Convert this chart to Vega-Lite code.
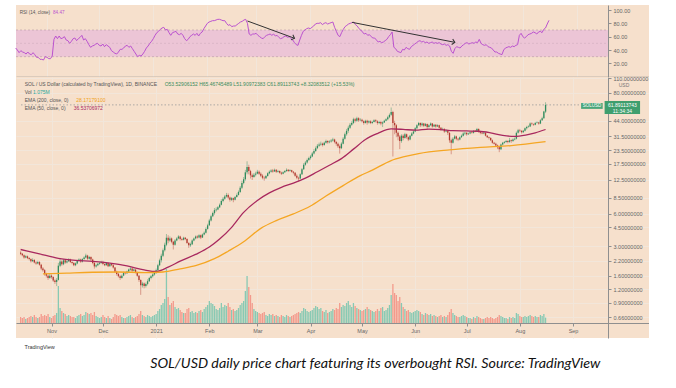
{
"$schema": "https://vega.github.io/schema/vega-lite/v6.json",
"padding": {"left": 13, "top": 5, "right": 0, "bottom": 0},
"background": "#ffffff",
"bounds": "flush",
"spacing": 0,
"title": {"text": "SOL/USD daily price chart featuring its overbought RSI. Source: TradingView", "orient": "bottom", "anchor": "middle", "font": "Lato", "fontStyle": "italic", "fontWeight": "normal", "fontSize": 14.3, "color": "#111111", "offset": 7, "dx": 44},
"datasets": {
"sol": [
{"d":"2020-10-14","o":2.62,"h":2.70,"l":2.48,"c":2.55,"v":1.2,"r":43},
{"d":"2020-10-15","o":2.55,"h":2.60,"l":2.42,"c":2.48,"v":1.0,"r":40},
{"d":"2020-10-16","o":2.48,"h":2.52,"l":2.30,"c":2.36,"v":1.2,"r":36},
{"d":"2020-10-17","o":2.36,"h":2.48,"l":2.32,"c":2.42,"v":0.8,"r":39},
{"d":"2020-10-18","o":2.42,"h":2.46,"l":2.28,"c":2.33,"v":1.0,"r":37},
{"d":"2020-10-19","o":2.33,"h":2.38,"l":2.22,"c":2.28,"v":1.2,"r":36},
{"d":"2020-10-20","o":2.28,"h":2.32,"l":2.12,"c":2.18,"v":1.4,"r":34},
{"d":"2020-10-21","o":2.18,"h":2.32,"l":2.14,"c":2.24,"v":1.2,"r":37},
{"d":"2020-10-22","o":2.24,"h":2.28,"l":2.08,"c":2.12,"v":1.6,"r":34},
{"d":"2020-10-23","o":2.12,"h":2.18,"l":2.02,"c":2.08,"v":1.2,"r":33},
{"d":"2020-10-24","o":2.08,"h":2.20,"l":2.04,"c":2.14,"v":1.0,"r":36},
{"d":"2020-10-25","o":2.14,"h":2.18,"l":1.98,"c":2.02,"v":1.2,"r":33},
{"d":"2020-10-26","o":2.02,"h":2.06,"l":1.80,"c":1.86,"v":1.8,"r":29},
{"d":"2020-10-27","o":1.86,"h":1.92,"l":1.74,"c":1.80,"v":1.4,"r":29},
{"d":"2020-10-28","o":1.80,"h":1.84,"l":1.60,"c":1.66,"v":1.6,"r":26},
{"d":"2020-10-29","o":1.66,"h":1.70,"l":1.54,"c":1.60,"v":1.4,"r":26},
{"d":"2020-10-30","o":1.60,"h":1.64,"l":1.46,"c":1.52,"v":1.8,"r":25},
{"d":"2020-10-31","o":1.52,"h":1.66,"l":1.50,"c":1.60,"v":1.2,"r":30},
{"d":"2020-11-01","o":1.60,"h":1.64,"l":1.50,"c":1.55,"v":1.0,"r":29},
{"d":"2020-11-02","o":1.55,"h":1.58,"l":1.40,"c":1.44,"v":1.4,"r":27},
{"d":"2020-11-03","o":1.44,"h":1.48,"l":1.34,"c":1.40,"v":1.6,"r":27},
{"d":"2020-11-04","o":1.40,"h":1.52,"l":1.28,"c":1.46,"v":2.0,"r":31},
{"d":"2020-11-05","o":1.46,"h":2.10,"l":1.44,"c":1.98,"v":7.4,"r":56},
{"d":"2020-11-06","o":1.98,"h":2.30,"l":1.92,"c":2.16,"v":3.0,"r":61},
{"d":"2020-11-07","o":2.16,"h":2.22,"l":1.98,"c":2.04,"v":2.4,"r":57},
{"d":"2020-11-08","o":2.04,"h":2.28,"l":2.00,"c":2.22,"v":2.0,"r":61},
{"d":"2020-11-09","o":2.22,"h":2.26,"l":2.06,"c":2.12,"v":1.8,"r":57},
{"d":"2020-11-10","o":2.12,"h":2.24,"l":2.08,"c":2.18,"v":1.4,"r":58},
{"d":"2020-11-11","o":2.18,"h":2.32,"l":2.14,"c":2.26,"v":1.6,"r":60},
{"d":"2020-11-12","o":2.26,"h":2.30,"l":2.10,"c":2.14,"v":1.4,"r":55},
{"d":"2020-11-13","o":2.14,"h":2.18,"l":2.04,"c":2.10,"v":1.2,"r":54},
{"d":"2020-11-14","o":2.10,"h":2.14,"l":1.96,"c":2.00,"v":1.2,"r":50},
{"d":"2020-11-15","o":2.00,"h":2.12,"l":1.96,"c":2.08,"v":1.0,"r":53},
{"d":"2020-11-16","o":2.08,"h":2.24,"l":2.04,"c":2.20,"v":1.4,"r":57},
{"d":"2020-11-17","o":2.20,"h":2.32,"l":2.16,"c":2.26,"v":1.6,"r":58},
{"d":"2020-11-18","o":2.26,"h":2.30,"l":2.10,"c":2.16,"v":1.8,"r":54},
{"d":"2020-11-19","o":2.16,"h":2.32,"l":2.12,"c":2.28,"v":1.4,"r":57},
{"d":"2020-11-20","o":2.28,"h":2.42,"l":2.24,"c":2.36,"v":1.6,"r":59},
{"d":"2020-11-21","o":2.36,"h":2.56,"l":2.32,"c":2.46,"v":2.2,"r":62},
{"d":"2020-11-22","o":2.46,"h":2.50,"l":2.24,"c":2.30,"v":2.0,"r":55},
{"d":"2020-11-23","o":2.30,"h":2.44,"l":2.26,"c":2.38,"v":1.8,"r":57},
{"d":"2020-11-24","o":2.38,"h":2.42,"l":2.20,"c":2.26,"v":2.0,"r":53},
{"d":"2020-11-25","o":2.26,"h":2.30,"l":2.04,"c":2.10,"v":1.6,"r":48},
{"d":"2020-11-26","o":2.10,"h":2.14,"l":1.86,"c":1.95,"v":2.2,"r":44},
{"d":"2020-11-27","o":1.95,"h":2.06,"l":1.90,"c":2.00,"v":1.4,"r":46},
{"d":"2020-11-28","o":2.00,"h":2.10,"l":1.96,"c":2.06,"v":1.2,"r":47},
{"d":"2020-11-29","o":2.06,"h":2.14,"l":2.02,"c":2.10,"v":1.0,"r":49},
{"d":"2020-11-30","o":2.10,"h":2.20,"l":2.06,"c":2.14,"v":1.2,"r":50},
{"d":"2020-12-01","o":2.14,"h":2.20,"l":2.00,"c":2.05,"v":1.6,"r":47},
{"d":"2020-12-02","o":2.05,"h":2.08,"l":1.96,"c":2.00,"v":1.2,"r":46},
{"d":"2020-12-03","o":2.00,"h":2.14,"l":1.98,"c":2.10,"v":1.0,"r":49},
{"d":"2020-12-04","o":2.10,"h":2.12,"l":1.92,"c":1.96,"v":1.4,"r":45},
{"d":"2020-12-05","o":1.96,"h":2.08,"l":1.94,"c":2.05,"v":1.0,"r":48},
{"d":"2020-12-06","o":2.05,"h":2.08,"l":1.96,"c":2.00,"v":0.8,"r":46},
{"d":"2020-12-07","o":2.00,"h":2.04,"l":1.86,"c":1.90,"v":1.2,"r":44},
{"d":"2020-12-08","o":1.90,"h":1.92,"l":1.70,"c":1.74,"v":1.8,"r":39},
{"d":"2020-12-09","o":1.74,"h":1.78,"l":1.60,"c":1.66,"v":1.6,"r":37},
{"d":"2020-12-10","o":1.66,"h":1.70,"l":1.54,"c":1.58,"v":1.4,"r":35},
{"d":"2020-12-11","o":1.58,"h":1.62,"l":1.46,"c":1.52,"v":1.6,"r":34},
{"d":"2020-12-12","o":1.52,"h":1.64,"l":1.50,"c":1.60,"v":1.2,"r":37},
{"d":"2020-12-13","o":1.60,"h":1.74,"l":1.58,"c":1.70,"v":1.0,"r":41},
{"d":"2020-12-14","o":1.70,"h":1.74,"l":1.64,"c":1.68,"v":1.0,"r":41},
{"d":"2020-12-15","o":1.68,"h":1.78,"l":1.66,"c":1.75,"v":1.2,"r":43},
{"d":"2020-12-16","o":1.75,"h":1.86,"l":1.72,"c":1.82,"v":1.4,"r":46},
{"d":"2020-12-17","o":1.82,"h":1.92,"l":1.78,"c":1.86,"v":1.6,"r":47},
{"d":"2020-12-18","o":1.86,"h":1.88,"l":1.74,"c":1.78,"v":1.2,"r":44},
{"d":"2020-12-19","o":1.78,"h":1.86,"l":1.76,"c":1.82,"v":1.0,"r":46},
{"d":"2020-12-20","o":1.82,"h":1.84,"l":1.68,"c":1.72,"v":1.2,"r":42},
{"d":"2020-12-21","o":1.72,"h":1.74,"l":1.56,"c":1.60,"v":1.4,"r":38},
{"d":"2020-12-22","o":1.60,"h":1.62,"l":1.40,"c":1.46,"v":1.8,"r":34},
{"d":"2020-12-23","o":1.46,"h":1.48,"l":1.06,"c":1.30,"v":2.4,"r":30},
{"d":"2020-12-24","o":1.30,"h":1.40,"l":1.24,"c":1.35,"v":1.6,"r":32},
{"d":"2020-12-25","o":1.35,"h":1.38,"l":1.22,"c":1.28,"v":1.4,"r":31},
{"d":"2020-12-26","o":1.28,"h":1.38,"l":1.24,"c":1.34,"v":1.2,"r":34},
{"d":"2020-12-27","o":1.34,"h":1.48,"l":1.30,"c":1.42,"v":1.6,"r":38},
{"d":"2020-12-28","o":1.42,"h":1.56,"l":1.40,"c":1.52,"v":1.4,"r":43},
{"d":"2020-12-29","o":1.52,"h":1.62,"l":1.48,"c":1.58,"v":1.2,"r":46},
{"d":"2020-12-30","o":1.58,"h":1.68,"l":1.54,"c":1.64,"v":1.4,"r":50},
{"d":"2020-12-31","o":1.64,"h":1.76,"l":1.60,"c":1.70,"v":1.6,"r":53},
{"d":"2021-01-01","o":1.70,"h":1.86,"l":1.66,"c":1.80,"v":1.8,"r":57},
{"d":"2021-01-02","o":1.80,"h":2.06,"l":1.76,"c":2.00,"v":2.4,"r":62},
{"d":"2021-01-03","o":2.00,"h":2.30,"l":1.96,"c":2.22,"v":2.8,"r":66},
{"d":"2021-01-04","o":2.22,"h":2.56,"l":2.12,"c":2.45,"v":3.6,"r":68},
{"d":"2021-01-05","o":2.45,"h":2.86,"l":2.38,"c":2.75,"v":4.0,"r":71},
{"d":"2021-01-06","o":2.75,"h":3.24,"l":2.68,"c":3.10,"v":4.8,"r":73},
{"d":"2021-01-07","o":3.10,"h":3.90,"l":3.00,"c":3.60,"v":10.8,"r":74},
{"d":"2021-01-08","o":3.60,"h":3.80,"l":3.20,"c":3.40,"v":5.2,"r":70},
{"d":"2021-01-09","o":3.40,"h":3.70,"l":3.30,"c":3.55,"v":3.6,"r":71},
{"d":"2021-01-10","o":3.55,"h":3.62,"l":3.20,"c":3.30,"v":4.0,"r":66},
{"d":"2021-01-11","o":3.30,"h":3.36,"l":2.80,"c":3.10,"v":4.4,"r":62},
{"d":"2021-01-12","o":3.10,"h":3.50,"l":3.04,"c":3.40,"v":3.2,"r":66},
{"d":"2021-01-13","o":3.40,"h":3.64,"l":3.34,"c":3.55,"v":2.8,"r":67},
{"d":"2021-01-14","o":3.55,"h":3.80,"l":3.48,"c":3.70,"v":3.0,"r":68},
{"d":"2021-01-15","o":3.70,"h":3.76,"l":3.40,"c":3.50,"v":2.6,"r":64},
{"d":"2021-01-16","o":3.50,"h":3.60,"l":3.38,"c":3.45,"v":2.2,"r":63},
{"d":"2021-01-17","o":3.45,"h":3.68,"l":3.40,"c":3.60,"v":2.0,"r":65},
{"d":"2021-01-18","o":3.60,"h":3.66,"l":3.42,"c":3.50,"v":2.0,"r":62},
{"d":"2021-01-19","o":3.50,"h":3.56,"l":3.16,"c":3.22,"v":2.8,"r":57},
{"d":"2021-01-20","o":3.22,"h":3.28,"l":2.90,"c":3.06,"v":3.0,"r":54},
{"d":"2021-01-21","o":3.06,"h":3.24,"l":2.96,"c":3.14,"v":2.2,"r":56},
{"d":"2021-01-22","o":3.14,"h":3.48,"l":3.08,"c":3.40,"v":2.4,"r":60},
{"d":"2021-01-23","o":3.40,"h":3.62,"l":3.34,"c":3.55,"v":2.0,"r":62},
{"d":"2021-01-24","o":3.55,"h":3.78,"l":3.48,"c":3.70,"v":2.2,"r":64},
{"d":"2021-01-25","o":3.70,"h":3.80,"l":3.54,"c":3.62,"v":2.0,"r":62},
{"d":"2021-01-26","o":3.62,"h":3.88,"l":3.56,"c":3.80,"v":2.4,"r":65},
{"d":"2021-01-27","o":3.80,"h":3.86,"l":3.50,"c":3.62,"v":2.6,"r":61},
{"d":"2021-01-28","o":3.62,"h":3.94,"l":3.58,"c":3.86,"v":2.2,"r":65},
{"d":"2021-01-29","o":3.86,"h":4.12,"l":3.80,"c":4.00,"v":2.8,"r":67},
{"d":"2021-01-30","o":4.00,"h":4.50,"l":3.94,"c":4.35,"v":3.2,"r":72},
{"d":"2021-01-31","o":4.35,"h":4.86,"l":4.28,"c":4.70,"v":3.6,"r":76},
{"d":"2021-02-01","o":4.70,"h":5.40,"l":4.62,"c":5.20,"v":4.4,"r":80},
{"d":"2021-02-02","o":5.20,"h":5.90,"l":5.10,"c":5.70,"v":4.0,"r":82},
{"d":"2021-02-03","o":5.70,"h":6.30,"l":5.60,"c":6.10,"v":3.8,"r":83},
{"d":"2021-02-04","o":6.10,"h":6.80,"l":5.90,"c":6.50,"v":3.4,"r":84},
{"d":"2021-02-05","o":6.50,"h":6.90,"l":6.30,"c":6.60,"v":2.8,"r":84},
{"d":"2021-02-06","o":6.60,"h":7.10,"l":6.50,"c":6.90,"v":2.6,"r":85},
{"d":"2021-02-07","o":6.90,"h":7.50,"l":6.80,"c":7.30,"v":3.0,"r":86},
{"d":"2021-02-08","o":7.30,"h":8.20,"l":7.20,"c":7.90,"v":4.0,"r":86},
{"d":"2021-02-09","o":7.90,"h":8.60,"l":7.70,"c":8.30,"v":3.2,"r":85},
{"d":"2021-02-10","o":8.30,"h":9.00,"l":8.10,"c":8.70,"v":3.6,"r":84},
{"d":"2021-02-11","o":8.70,"h":9.40,"l":8.50,"c":9.00,"v":3.4,"r":84},
{"d":"2021-02-12","o":9.00,"h":9.30,"l":8.20,"c":8.50,"v":4.0,"r":80},
{"d":"2021-02-13","o":8.50,"h":8.70,"l":7.80,"c":8.10,"v":3.2,"r":77},
{"d":"2021-02-14","o":8.10,"h":8.60,"l":7.90,"c":8.40,"v":2.6,"r":78},
{"d":"2021-02-15","o":8.40,"h":8.50,"l":7.70,"c":8.10,"v":2.8,"r":75},
{"d":"2021-02-16","o":8.10,"h":8.80,"l":8.00,"c":8.60,"v":2.4,"r":76},
{"d":"2021-02-17","o":8.60,"h":9.30,"l":8.50,"c":9.00,"v":2.6,"r":76},
{"d":"2021-02-18","o":9.00,"h":9.90,"l":8.90,"c":9.60,"v":3.0,"r":78},
{"d":"2021-02-19","o":9.60,"h":10.9,"l":9.40,"c":10.5,"v":3.6,"r":80},
{"d":"2021-02-20","o":10.5,"h":12.2,"l":10.2,"c":11.6,"v":4.0,"r":82},
{"d":"2021-02-21","o":11.6,"h":13.2,"l":11.3,"c":12.6,"v":4.4,"r":83},
{"d":"2021-02-22","o":12.6,"h":15.4,"l":12.2,"c":14.6,"v":6.4,"r":85},
{"d":"2021-02-23","o":14.6,"h":18.5,"l":14.0,"c":16.4,"v":9.4,"r":86},
{"d":"2021-02-24","o":16.4,"h":17.2,"l":14.0,"c":15.0,"v":7.2,"r":80},
{"d":"2021-02-25","o":15.0,"h":15.4,"l":12.8,"c":13.7,"v":5.6,"r":64},
{"d":"2021-02-26","o":13.7,"h":14.2,"l":12.4,"c":13.2,"v":4.0,"r":62},
{"d":"2021-02-27","o":13.2,"h":14.4,"l":13.0,"c":13.9,"v":2.8,"r":64},
{"d":"2021-02-28","o":13.9,"h":14.8,"l":13.4,"c":14.2,"v":2.4,"r":64},
{"d":"2021-03-01","o":14.2,"h":15.4,"l":14.0,"c":14.8,"v":2.2,"r":65},
{"d":"2021-03-02","o":14.8,"h":15.2,"l":13.8,"c":14.2,"v":2.0,"r":62},
{"d":"2021-03-03","o":14.2,"h":14.6,"l":13.2,"c":13.6,"v":1.8,"r":60},
{"d":"2021-03-04","o":13.6,"h":14.0,"l":12.6,"c":13.0,"v":2.0,"r":58},
{"d":"2021-03-05","o":13.0,"h":13.4,"l":12.2,"c":12.9,"v":2.2,"r":57},
{"d":"2021-03-06","o":12.9,"h":13.8,"l":12.7,"c":13.5,"v":1.6,"r":60},
{"d":"2021-03-07","o":13.5,"h":14.6,"l":13.3,"c":14.3,"v":1.4,"r":62},
{"d":"2021-03-08","o":14.3,"h":15.2,"l":14.0,"c":14.8,"v":1.8,"r":63},
{"d":"2021-03-09","o":14.8,"h":15.6,"l":14.5,"c":15.2,"v":1.6,"r":64},
{"d":"2021-03-10","o":15.2,"h":15.7,"l":14.5,"c":14.9,"v":1.8,"r":62},
{"d":"2021-03-11","o":14.9,"h":15.8,"l":14.7,"c":15.4,"v":1.4,"r":64},
{"d":"2021-03-12","o":15.4,"h":15.6,"l":14.4,"c":14.8,"v":1.6,"r":61},
{"d":"2021-03-13","o":14.8,"h":15.4,"l":14.5,"c":15.0,"v":1.4,"r":62},
{"d":"2021-03-14","o":15.0,"h":15.2,"l":14.2,"c":14.5,"v":1.2,"r":59},
{"d":"2021-03-15","o":14.5,"h":14.8,"l":13.8,"c":14.2,"v":1.6,"r":57},
{"d":"2021-03-16","o":14.2,"h":14.9,"l":14.0,"c":14.6,"v":1.4,"r":58},
{"d":"2021-03-17","o":14.6,"h":15.3,"l":14.4,"c":15.0,"v":1.2,"r":60},
{"d":"2021-03-18","o":15.0,"h":15.9,"l":14.8,"c":15.4,"v":1.6,"r":61},
{"d":"2021-03-19","o":15.4,"h":15.6,"l":14.7,"c":15.0,"v":1.4,"r":59},
{"d":"2021-03-20","o":15.0,"h":15.6,"l":14.8,"c":15.3,"v":1.2,"r":60},
{"d":"2021-03-21","o":15.3,"h":15.4,"l":14.5,"c":14.8,"v":1.4,"r":57},
{"d":"2021-03-22","o":14.8,"h":15.0,"l":14.0,"c":14.5,"v":1.6,"r":55},
{"d":"2021-03-23","o":14.5,"h":14.7,"l":13.3,"c":13.6,"v":1.8,"r":51},
{"d":"2021-03-24","o":13.6,"h":14.0,"l":12.6,"c":13.0,"v":2.0,"r":48},
{"d":"2021-03-25","o":13.0,"h":13.3,"l":12.0,"c":12.8,"v":2.2,"r":47},
{"d":"2021-03-26","o":12.8,"h":14.3,"l":12.6,"c":14.0,"v":2.0,"r":55},
{"d":"2021-03-27","o":14.0,"h":16.0,"l":13.8,"c":15.6,"v":2.4,"r":62},
{"d":"2021-03-28","o":15.6,"h":17.8,"l":15.4,"c":17.2,"v":3.0,"r":68},
{"d":"2021-03-29","o":17.2,"h":18.6,"l":16.8,"c":18.0,"v":2.8,"r":70},
{"d":"2021-03-30","o":18.0,"h":19.6,"l":17.6,"c":19.0,"v":2.4,"r":72},
{"d":"2021-03-31","o":19.0,"h":20.4,"l":18.6,"c":19.8,"v":2.2,"r":73},
{"d":"2021-04-01","o":19.8,"h":21.2,"l":19.2,"c":20.5,"v":2.4,"r":72},
{"d":"2021-04-02","o":20.5,"h":22.6,"l":20.2,"c":21.8,"v":2.6,"r":74},
{"d":"2021-04-03","o":21.8,"h":24.0,"l":21.4,"c":23.0,"v":3.0,"r":76},
{"d":"2021-04-04","o":23.0,"h":25.4,"l":22.6,"c":24.5,"v":3.4,"r":79},
{"d":"2021-04-05","o":24.5,"h":26.8,"l":24.0,"c":25.8,"v":3.2,"r":80},
{"d":"2021-04-06","o":25.8,"h":27.6,"l":25.2,"c":26.5,"v":2.8,"r":80},
{"d":"2021-04-07","o":26.5,"h":28.2,"l":25.8,"c":27.0,"v":3.0,"r":81},
{"d":"2021-04-08","o":27.0,"h":27.6,"l":25.4,"c":26.2,"v":2.4,"r":78},
{"d":"2021-04-09","o":26.2,"h":28.2,"l":25.8,"c":27.5,"v":2.2,"r":80},
{"d":"2021-04-10","o":27.5,"h":29.4,"l":27.0,"c":28.5,"v":2.6,"r":81},
{"d":"2021-04-11","o":28.5,"h":29.0,"l":27.0,"c":27.8,"v":2.0,"r":79},
{"d":"2021-04-12","o":27.8,"h":29.0,"l":27.2,"c":28.2,"v":2.2,"r":80},
{"d":"2021-04-13","o":28.2,"h":29.8,"l":27.6,"c":28.8,"v":2.4,"r":81},
{"d":"2021-04-14","o":28.8,"h":30.6,"l":28.2,"c":29.5,"v":2.8,"r":82},
{"d":"2021-04-15","o":29.5,"h":30.0,"l":27.2,"c":28.0,"v":2.6,"r":74},
{"d":"2021-04-16","o":28.0,"h":28.6,"l":25.8,"c":27.0,"v":3.0,"r":68},
{"d":"2021-04-17","o":27.0,"h":27.6,"l":24.6,"c":25.5,"v":2.8,"r":62},
{"d":"2021-04-18","o":25.5,"h":26.4,"l":21.8,"c":24.5,"v":4.0,"r":60},
{"d":"2021-04-19","o":24.5,"h":27.8,"l":24.0,"c":27.0,"v":3.2,"r":66},
{"d":"2021-04-20","o":27.0,"h":31.0,"l":26.6,"c":30.0,"v":3.6,"r":71},
{"d":"2021-04-21","o":30.0,"h":34.2,"l":29.4,"c":33.0,"v":3.4,"r":75},
{"d":"2021-04-22","o":33.0,"h":37.0,"l":32.0,"c":35.5,"v":4.0,"r":77},
{"d":"2021-04-23","o":35.5,"h":39.6,"l":34.0,"c":38.0,"v":4.4,"r":79},
{"d":"2021-04-24","o":38.0,"h":42.0,"l":37.0,"c":40.5,"v":3.6,"r":80},
{"d":"2021-04-25","o":40.5,"h":43.6,"l":39.5,"c":42.0,"v":3.2,"r":81},
{"d":"2021-04-26","o":42.0,"h":47.0,"l":41.0,"c":45.5,"v":4.0,"r":82},
{"d":"2021-04-27","o":45.5,"h":46.8,"l":42.5,"c":44.0,"v":3.4,"r":78},
{"d":"2021-04-28","o":44.0,"h":48.0,"l":43.0,"c":46.5,"v":3.0,"r":76},
{"d":"2021-04-29","o":46.5,"h":47.5,"l":43.0,"c":44.5,"v":2.8,"r":72},
{"d":"2021-04-30","o":44.5,"h":46.5,"l":43.5,"c":45.0,"v":2.6,"r":70},
{"d":"2021-05-01","o":45.0,"h":46.0,"l":42.5,"c":43.5,"v":2.4,"r":67},
{"d":"2021-05-02","o":43.5,"h":44.5,"l":40.5,"c":42.0,"v":2.6,"r":64},
{"d":"2021-05-03","o":42.0,"h":45.0,"l":41.5,"c":44.0,"v":2.8,"r":65},
{"d":"2021-05-04","o":44.0,"h":45.0,"l":40.5,"c":42.5,"v":3.2,"r":62},
{"d":"2021-05-05","o":42.5,"h":44.5,"l":41.5,"c":43.5,"v":2.8,"r":63},
{"d":"2021-05-06","o":43.5,"h":44.5,"l":41.0,"c":42.0,"v":2.6,"r":60},
{"d":"2021-05-07","o":42.0,"h":44.0,"l":41.0,"c":43.0,"v":2.4,"r":58},
{"d":"2021-05-08","o":43.0,"h":45.5,"l":42.5,"c":44.5,"v":2.2,"r":58},
{"d":"2021-05-09","o":44.5,"h":45.5,"l":42.5,"c":43.5,"v":2.4,"r":55},
{"d":"2021-05-10","o":43.5,"h":44.5,"l":40.5,"c":42.0,"v":2.8,"r":52},
{"d":"2021-05-11","o":42.0,"h":44.0,"l":41.0,"c":43.0,"v":2.4,"r":53},
{"d":"2021-05-12","o":43.0,"h":44.0,"l":40.0,"c":41.5,"v":3.0,"r":51},
{"d":"2021-05-13","o":41.5,"h":43.5,"l":38.5,"c":42.5,"v":3.2,"r":52},
{"d":"2021-05-14","o":42.5,"h":45.0,"l":42.0,"c":44.0,"v":2.4,"r":54},
{"d":"2021-05-15","o":44.0,"h":46.5,"l":43.5,"c":45.5,"v":2.6,"r":56},
{"d":"2021-05-16","o":45.5,"h":49.0,"l":44.5,"c":47.5,"v":3.0,"r":60},
{"d":"2021-05-17","o":47.5,"h":51.5,"l":46.5,"c":50.0,"v":3.6,"r":63},
{"d":"2021-05-18","o":50.0,"h":58.5,"l":49.0,"c":53.0,"v":5.6,"r":67},
{"d":"2021-05-19","o":53.0,"h":54.5,"l":20.5,"c":42.0,"v":7.8,"r":44},
{"d":"2021-05-20","o":42.0,"h":44.0,"l":33.0,"c":40.0,"v":6.0,"r":42},
{"d":"2021-05-21","o":40.0,"h":41.0,"l":31.0,"c":34.0,"v":5.6,"r":38},
{"d":"2021-05-22","o":34.0,"h":35.0,"l":29.0,"c":31.5,"v":4.4,"r":37},
{"d":"2021-05-23","o":31.5,"h":32.5,"l":24.0,"c":28.5,"v":5.2,"r":36},
{"d":"2021-05-24","o":28.5,"h":33.0,"l":27.5,"c":32.0,"v":4.0,"r":41},
{"d":"2021-05-25","o":32.0,"h":33.0,"l":29.0,"c":30.5,"v":3.2,"r":40},
{"d":"2021-05-26","o":30.5,"h":34.0,"l":30.0,"c":33.0,"v":2.8,"r":44},
{"d":"2021-05-27","o":33.0,"h":33.5,"l":30.0,"c":31.0,"v":2.4,"r":42},
{"d":"2021-05-28","o":31.0,"h":31.5,"l":28.5,"c":29.5,"v":2.6,"r":41},
{"d":"2021-05-29","o":29.5,"h":32.5,"l":29.0,"c":32.0,"v":2.2,"r":45},
{"d":"2021-05-30","o":32.0,"h":34.5,"l":31.5,"c":33.5,"v":2.0,"r":47},
{"d":"2021-05-31","o":33.5,"h":36.0,"l":33.0,"c":35.0,"v":2.2,"r":49},
{"d":"2021-06-01","o":35.0,"h":38.5,"l":34.5,"c":37.5,"v":2.4,"r":51},
{"d":"2021-06-02","o":37.5,"h":41.0,"l":37.0,"c":40.0,"v":2.6,"r":53},
{"d":"2021-06-03","o":40.0,"h":43.0,"l":39.5,"c":42.0,"v":2.4,"r":54},
{"d":"2021-06-04","o":42.0,"h":42.5,"l":38.5,"c":40.0,"v":2.2,"r":52},
{"d":"2021-06-05","o":40.0,"h":42.5,"l":39.0,"c":41.5,"v":1.8,"r":53},
{"d":"2021-06-06","o":41.5,"h":42.0,"l":38.5,"c":39.5,"v":1.6,"r":51},
{"d":"2021-06-07","o":39.5,"h":42.0,"l":39.0,"c":41.0,"v":2.0,"r":52},
{"d":"2021-06-08","o":41.0,"h":41.5,"l":37.0,"c":38.5,"v":1.8,"r":50},
{"d":"2021-06-09","o":38.5,"h":41.0,"l":38.0,"c":40.0,"v":1.6,"r":51},
{"d":"2021-06-10","o":40.0,"h":42.5,"l":39.5,"c":41.5,"v":1.8,"r":52},
{"d":"2021-06-11","o":41.5,"h":42.0,"l":38.0,"c":39.0,"v":1.4,"r":50},
{"d":"2021-06-12","o":39.0,"h":41.0,"l":38.5,"c":40.5,"v":1.6,"r":51},
{"d":"2021-06-13","o":40.5,"h":41.0,"l":38.0,"c":39.0,"v":1.4,"r":50},
{"d":"2021-06-14","o":39.0,"h":40.8,"l":38.5,"c":40.0,"v":1.2,"r":51},
{"d":"2021-06-15","o":40.0,"h":40.5,"l":37.0,"c":38.0,"v":1.4,"r":49},
{"d":"2021-06-16","o":38.0,"h":38.5,"l":35.5,"c":36.5,"v":1.6,"r":48},
{"d":"2021-06-17","o":36.5,"h":38.0,"l":36.0,"c":37.0,"v":1.2,"r":49},
{"d":"2021-06-18","o":37.0,"h":37.5,"l":34.0,"c":35.0,"v":1.4,"r":47},
{"d":"2021-06-19","o":35.0,"h":36.5,"l":34.5,"c":35.5,"v":1.2,"r":48},
{"d":"2021-06-20","o":35.5,"h":36.0,"l":32.5,"c":34.0,"v":1.6,"r":46},
{"d":"2021-06-21","o":34.0,"h":34.5,"l":27.5,"c":29.0,"v":2.2,"r":38},
{"d":"2021-06-22","o":29.0,"h":30.0,"l":21.5,"c":27.5,"v":2.8,"r":35},
{"d":"2021-06-23","o":27.5,"h":31.0,"l":27.0,"c":30.0,"v":2.0,"r":42},
{"d":"2021-06-24","o":30.0,"h":32.5,"l":29.5,"c":31.5,"v":1.6,"r":45},
{"d":"2021-06-25","o":31.5,"h":32.0,"l":29.0,"c":30.0,"v":1.4,"r":44},
{"d":"2021-06-26","o":30.0,"h":30.5,"l":28.5,"c":29.5,"v":1.2,"r":43},
{"d":"2021-06-27","o":29.5,"h":31.5,"l":29.0,"c":31.0,"v":1.2,"r":46},
{"d":"2021-06-28","o":31.0,"h":32.8,"l":30.5,"c":32.0,"v":1.4,"r":48},
{"d":"2021-06-29","o":32.0,"h":34.5,"l":31.5,"c":33.5,"v":1.6,"r":50},
{"d":"2021-06-30","o":33.5,"h":34.8,"l":32.5,"c":34.0,"v":1.4,"r":51},
{"d":"2021-07-01","o":34.0,"h":34.5,"l":32.0,"c":33.0,"v":1.2,"r":49},
{"d":"2021-07-02","o":33.0,"h":34.2,"l":32.5,"c":33.5,"v":1.0,"r":50},
{"d":"2021-07-03","o":33.5,"h":35.0,"l":33.0,"c":34.5,"v":1.0,"r":51},
{"d":"2021-07-04","o":34.5,"h":35.2,"l":33.5,"c":34.0,"v":0.8,"r":50},
{"d":"2021-07-05","o":34.0,"h":36.0,"l":33.5,"c":35.5,"v":1.2,"r":52},
{"d":"2021-07-06","o":35.5,"h":36.2,"l":34.5,"c":35.0,"v":1.0,"r":51},
{"d":"2021-07-07","o":35.0,"h":37.8,"l":34.8,"c":37.0,"v":1.4,"r":56},
{"d":"2021-07-08","o":37.0,"h":37.5,"l":34.0,"c":35.0,"v":1.2,"r":50},
{"d":"2021-07-09","o":35.0,"h":35.5,"l":33.0,"c":34.0,"v":1.0,"r":48},
{"d":"2021-07-10","o":34.0,"h":34.5,"l":33.0,"c":33.5,"v":0.8,"r":47},
{"d":"2021-07-11","o":33.5,"h":34.6,"l":33.0,"c":34.0,"v":0.8,"r":48},
{"d":"2021-07-12","o":34.0,"h":34.5,"l":31.5,"c":32.0,"v":1.0,"r":45},
{"d":"2021-07-13","o":32.0,"h":32.5,"l":30.5,"c":31.0,"v":1.2,"r":44},
{"d":"2021-07-14","o":31.0,"h":31.5,"l":29.5,"c":30.5,"v":1.0,"r":43},
{"d":"2021-07-15","o":30.5,"h":31.0,"l":28.5,"c":29.0,"v":1.2,"r":40},
{"d":"2021-07-16","o":29.0,"h":29.5,"l":27.0,"c":27.5,"v":1.0,"r":37},
{"d":"2021-07-17","o":27.5,"h":28.0,"l":26.5,"c":27.0,"v":0.8,"r":37},
{"d":"2021-07-18","o":27.0,"h":27.5,"l":25.5,"c":26.0,"v":1.0,"r":35},
{"d":"2021-07-19","o":26.0,"h":26.5,"l":24.0,"c":25.0,"v":1.2,"r":34},
{"d":"2021-07-20","o":25.0,"h":25.5,"l":22.5,"c":24.0,"v":1.6,"r":33},
{"d":"2021-07-21","o":24.0,"h":27.0,"l":23.5,"c":26.5,"v":1.4,"r":40},
{"d":"2021-07-22","o":26.5,"h":28.0,"l":26.0,"c":27.5,"v":1.2,"r":43},
{"d":"2021-07-23","o":27.5,"h":28.5,"l":27.0,"c":28.0,"v":1.0,"r":44},
{"d":"2021-07-24","o":28.0,"h":29.2,"l":27.5,"c":28.5,"v":1.0,"r":45},
{"d":"2021-07-25","o":28.5,"h":29.0,"l":27.2,"c":28.0,"v":0.8,"r":44},
{"d":"2021-07-26","o":28.0,"h":30.5,"l":27.5,"c":29.0,"v":1.2,"r":46},
{"d":"2021-07-27","o":29.0,"h":29.5,"l":27.5,"c":28.5,"v":1.0,"r":45},
{"d":"2021-07-28","o":28.5,"h":30.2,"l":28.0,"c":29.5,"v":1.2,"r":47},
{"d":"2021-07-29","o":29.5,"h":30.8,"l":29.0,"c":30.0,"v":1.0,"r":48},
{"d":"2021-07-30","o":30.0,"h":35.0,"l":29.5,"c":34.0,"v":2.0,"r":62},
{"d":"2021-07-31","o":34.0,"h":37.0,"l":33.5,"c":36.0,"v":1.8,"r":65},
{"d":"2021-08-01","o":36.0,"h":37.0,"l":34.5,"c":35.5,"v":1.4,"r":60},
{"d":"2021-08-02","o":35.5,"h":36.0,"l":33.5,"c":34.5,"v":1.2,"r":58},
{"d":"2021-08-03","o":34.5,"h":36.2,"l":34.0,"c":35.5,"v":1.2,"r":60},
{"d":"2021-08-04","o":35.5,"h":38.2,"l":35.0,"c":37.5,"v":1.4,"r":63},
{"d":"2021-08-05","o":37.5,"h":39.5,"l":36.5,"c":38.5,"v":1.2,"r":64},
{"d":"2021-08-06","o":38.5,"h":40.0,"l":38.0,"c":39.0,"v":1.4,"r":65},
{"d":"2021-08-07","o":39.0,"h":42.5,"l":38.5,"c":41.5,"v":1.6,"r":67},
{"d":"2021-08-08","o":41.5,"h":42.5,"l":40.0,"c":41.0,"v":1.4,"r":66},
{"d":"2021-08-09","o":41.0,"h":41.5,"l":39.5,"c":40.5,"v":1.2,"r":64},
{"d":"2021-08-10","o":40.5,"h":43.0,"l":40.0,"c":42.0,"v":1.4,"r":67},
{"d":"2021-08-11","o":42.0,"h":43.5,"l":41.5,"c":42.5,"v":1.2,"r":68},
{"d":"2021-08-12","o":42.5,"h":43.0,"l":40.5,"c":41.5,"v":1.2,"r":66},
{"d":"2021-08-13","o":41.5,"h":45.5,"l":41.0,"c":44.5,"v":1.6,"r":71},
{"d":"2021-08-14","o":44.5,"h":48.0,"l":44.0,"c":46.5,"v":1.4,"r":73},
{"d":"2021-08-15","o":46.5,"h":54.5,"l":46.0,"c":53.57,"v":1.8,"r":79},
{"d":"2021-08-16","o":53.53,"h":65.47,"l":51.91,"c":61.89,"v":1.075,"r":84.47}
],
"ema": [
{"d":"2020-10-14","k":"e50","e":2.80},{"d":"2020-10-25","k":"e50","e":2.55},{"d":"2020-11-05","k":"e50","e":2.32},{"d":"2020-11-15","k":"e50","e":2.22},{"d":"2020-11-25","k":"e50","e":2.17},{"d":"2020-12-05","k":"e50","e":2.09},{"d":"2020-12-15","k":"e50","e":1.97},{"d":"2020-12-25","k":"e50","e":1.81},{"d":"2021-01-01","k":"e50","e":1.75},{"d":"2021-01-08","k":"e50","e":1.92},{"d":"2021-01-15","k":"e50","e":2.18},{"d":"2021-01-24","k":"e50","e":2.52},{"d":"2021-02-01","k":"e50","e":2.95},{"d":"2021-02-07","k":"e50","e":3.50},{"d":"2021-02-14","k":"e50","e":4.50},{"d":"2021-02-21","k":"e50","e":6.20},{"d":"2021-03-01","k":"e50","e":8.00},{"d":"2021-03-08","k":"e50","e":9.40},{"d":"2021-03-15","k":"e50","e":10.6},{"d":"2021-03-22","k":"e50","e":11.6},{"d":"2021-03-29","k":"e50","e":12.9},{"d":"2021-04-05","k":"e50","e":14.8},{"d":"2021-04-12","k":"e50","e":17.0},{"d":"2021-04-19","k":"e50","e":19.6},{"d":"2021-04-26","k":"e50","e":24.0},{"d":"2021-05-03","k":"e50","e":29.5},{"d":"2021-05-10","k":"e50","e":33.5},{"d":"2021-05-18","k":"e50","e":37.0},{"d":"2021-05-25","k":"e50","e":36.6},{"d":"2021-06-01","k":"e50","e":36.0},{"d":"2021-06-09","k":"e50","e":36.8},{"d":"2021-06-16","k":"e50","e":36.5},{"d":"2021-06-23","k":"e50","e":35.6},{"d":"2021-07-01","k":"e50","e":35.4},{"d":"2021-07-08","k":"e50","e":35.2},{"d":"2021-07-15","k":"e50","e":34.0},{"d":"2021-07-22","k":"e50","e":32.2},{"d":"2021-07-29","k":"e50","e":31.5},{"d":"2021-08-05","k":"e50","e":32.6},{"d":"2021-08-10","k":"e50","e":34.0},{"d":"2021-08-16","k":"e50","e":36.54},
{"d":"2020-10-27","k":"e200","e":1.66},{"d":"2020-11-10","k":"e200","e":1.69},{"d":"2020-11-25","k":"e200","e":1.72},{"d":"2020-12-10","k":"e200","e":1.73},{"d":"2020-12-25","k":"e200","e":1.71},{"d":"2021-01-05","k":"e200","e":1.73},{"d":"2021-01-15","k":"e200","e":1.85},{"d":"2021-01-24","k":"e200","e":1.98},{"d":"2021-02-04","k":"e200","e":2.30},{"d":"2021-02-12","k":"e200","e":2.70},{"d":"2021-02-21","k":"e200","e":3.30},{"d":"2021-03-03","k":"e200","e":4.40},{"d":"2021-03-12","k":"e200","e":5.20},{"d":"2021-03-22","k":"e200","e":6.00},{"d":"2021-04-01","k":"e200","e":7.10},{"d":"2021-04-10","k":"e200","e":8.80},{"d":"2021-04-20","k":"e200","e":11.0},{"d":"2021-04-30","k":"e200","e":13.6},{"d":"2021-05-07","k":"e200","e":15.3},{"d":"2021-05-18","k":"e200","e":18.8},{"d":"2021-05-25","k":"e200","e":20.3},{"d":"2021-06-03","k":"e200","e":21.8},{"d":"2021-06-21","k":"e200","e":23.6},{"d":"2021-07-09","k":"e200","e":24.9},{"d":"2021-07-27","k":"e200","e":25.9},{"d":"2021-08-16","k":"e200","e":28.17}
],
"arr": [
{"id":1,"d1":"2021-02-24","r1":83.5,"d2":"2021-03-23","r2":57.6},
{"id":2,"d1":"2021-04-25","r1":81.5,"d2":"2021-06-23","r2":51.5}
],
"lv": [{"lv": 20}, {"lv": 40}, {"lv": 60}, {"lv": 80}, {"lv": 100}]
},
"vconcat": [
{
"width": 633, "height": 72,
"data": {"name": "sol"},
"layer": [
{"data": {"values": [{}]}, "mark": {"type": "rect", "color": "#ecc5d6"},
 "encoding": {
  "x": {"datum": {"year":2020,"month":10,"date":14,"hours":5,"minutes":17,"utc":true}, "type": "temporal",
   "scale": {"type": "utc", "domain": [{"year":2020,"month":10,"date":14,"hours":5,"minutes":17,"utc":true},{"year":2021,"month":10,"date":12,"hours":9,"utc":true}]},
   "axis": {"orient": "bottom", "labels": false, "ticks": false, "domain": true, "domainColor": "#8c8c8c", "domainWidth": 1.5, "grid": true, "title": null,
    "values": [{"year":2020,"month":11,"date":1,"utc":true},{"year":2020,"month":12,"date":1,"utc":true},{"year":2021,"month":1,"date":1,"utc":true},{"year":2021,"month":2,"date":1,"utc":true},{"year":2021,"month":3,"date":1,"utc":true},{"year":2021,"month":4,"date":1,"utc":true},{"year":2021,"month":5,"date":1,"utc":true},{"year":2021,"month":6,"date":1,"utc":true},{"year":2021,"month":7,"date":1,"utc":true},{"year":2021,"month":8,"date":1,"utc":true},{"year":2021,"month":9,"date":1,"utc":true}]}},
  "x2": {"datum": {"year":2021,"month":9,"date":18,"hours":20,"utc":true}},
  "y": {"datum": 30, "type": "quantitative", "scale": {"domain": [-0.5, 107.5], "nice": false, "zero": false},
   "axis": {"orient": "right", "offset": -41, "tickCount": 5, "values": [20,40,60,80,100], "format": ".2f", "grid": false, "title": null, "labelOverlap": false, "labelSeparation": 0}},
  "y2": {"datum": 70}
 }},
{"data": {"values": [{"lv": 70}, {"lv": 30}]}, "mark": {"type": "rule", "color": "#b89aa6", "strokeWidth": 0.6, "strokeDash": [2, 2]},
 "encoding": {"x": {"datum": {"year":2020,"month":10,"date":14,"hours":5,"minutes":17,"utc":true}, "type": "temporal"}, "x2": {"datum": {"year":2021,"month":9,"date":18,"hours":20,"utc":true}}, "y": {"field": "lv", "type": "quantitative"}}},
{"data": {"values": [{}]}, "mark": {"type": "rule", "color": "#c9a9b8", "strokeWidth": 0.5, "strokeDash": [2, 2]},
 "encoding": {"x": {"datum": {"year":2020,"month":10,"date":14,"hours":5,"minutes":17,"utc":true}, "type": "temporal"}, "x2": {"datum": {"year":2021,"month":9,"date":18,"hours":20,"utc":true}}, "y": {"datum": 50, "type": "quantitative"}}},
{"mark": {"type": "line", "color": "#bb52cf", "strokeWidth": 1},
 "encoding": {"x": {"field": "d", "type": "temporal"}, "y": {"field": "r", "type": "quantitative"}}},
{"data": {"name": "arr"}, "mark": {"type": "rule", "color": "#333333", "strokeWidth": 1},
 "encoding": {"x": {"field": "d1", "type": "temporal"}, "x2": {"field": "d2"}, "y": {"field": "r1", "type": "quantitative"}, "y2": {"field": "r2"}}},
{"data": {"name": "arr"}, "transform": [{"filter": "datum.id == 1"}], "mark": {"type": "point", "shape": "M-1,-1L0,0L-1,1", "angle": 20, "size": 30, "filled": false, "color": "#333333", "strokeWidth": 1, "opacity": 1},
 "encoding": {"x": {"field": "d2", "type": "temporal"}, "y": {"field": "r2", "type": "quantitative"}}},
{"data": {"name": "arr"}, "transform": [{"filter": "datum.id == 2"}], "mark": {"type": "point", "shape": "M-1,-1L0,0L-1,1", "angle": 11, "size": 30, "filled": false, "color": "#333333", "strokeWidth": 1, "opacity": 1},
 "encoding": {"x": {"field": "d2", "type": "temporal"}, "y": {"field": "r2", "type": "quantitative"}}},
{"data": {"values": [{}]}, "mark": {"type": "text", "align": "left", "baseline": "middle", "fontSize": 4.6, "color": "#555555", "dx": 3.7, "text": "RSI (14, close)"},
 "encoding": {"x": {"datum": {"year":2020,"month":10,"date":14,"hours":5,"minutes":17,"utc":true}, "type": "temporal"}, "y": {"datum": 95.5, "type": "quantitative"}}},
{"data": {"values": [{}]}, "mark": {"type": "text", "align": "left", "baseline": "middle", "fontSize": 4.6, "color": "#bb52cf", "dx": 37, "text": "84.47"},
 "encoding": {"x": {"datum": {"year":2020,"month":10,"date":14,"hours":5,"minutes":17,"utc":true}, "type": "temporal"}, "y": {"datum": 95.5, "type": "quantitative"}}}
]
},
{
"width": 633, "height": 261,
"data": {"name": "sol"},
"resolve": {"scale": {"y": "independent"}},
"layer": [
{"mark": {"type": "bar", "width": 1.3},
 "encoding": {
  "x": {"field": "d", "type": "temporal",
   "scale": {"type": "utc", "domain": [{"year":2020,"month":10,"date":14,"hours":5,"minutes":17,"utc":true},{"year":2021,"month":10,"date":12,"hours":9,"utc":true}]},
   "axis": {"orient": "bottom", "offset": -15, "grid": true, "tickSize": 3, "labelPadding": 2,
    "labelExpr": "utcFormat(datum.value, '%m') == '01' ? utcFormat(datum.value, '%Y') : utcFormat(datum.value, '%b')",
    "title": "TradingView", "titleFontSize": 5.5, "titleFontWeight": "normal", "titleColor": "#333333", "titleX": 8, "titleY": 23, "titleAlign": "left", "titleAnchor": null, "titleBaseline": "middle",
    "values": [{"year":2020,"month":11,"date":1,"utc":true},{"year":2020,"month":12,"date":1,"utc":true},{"year":2021,"month":1,"date":1,"utc":true},{"year":2021,"month":2,"date":1,"utc":true},{"year":2021,"month":3,"date":1,"utc":true},{"year":2021,"month":4,"date":1,"utc":true},{"year":2021,"month":5,"date":1,"utc":true},{"year":2021,"month":6,"date":1,"utc":true},{"year":2021,"month":7,"date":1,"utc":true},{"year":2021,"month":8,"date":1,"utc":true},{"year":2021,"month":9,"date":1,"utc":true}]}},
  "y": {"field": "v", "type": "quantitative", "scale": {"domain": [-3, 49.2], "nice": false, "zero": false}, "axis": null},
  "y2": {"datum": 0},
  "color": {"condition": {"test": "datum.c >= datum.o", "value": "#88c9b3"}, "value": "#f39a8c"}
 }},
{"layer": [
 {"mark": {"type": "rule", "strokeWidth": 0.8, "opacity": 0.55},
  "encoding": {
   "x": {"field": "d", "type": "temporal"},
   "y": {"field": "l", "type": "quantitative", "scale": {"type": "log", "domain": [0.4211, 112.4], "nice": false},
    "axis": {"orient": "right", "offset": -41, "grid": true, "format": ".8f", "title": null, "labelOverlap": false,
     "values": [0.66, 0.9, 1.2, 1.6, 2.2, 3, 4.5, 6, 8.5, 12.5, 17.5, 23.5, 31.5, 44, 80, 110]}},
   "y2": {"field": "h"},
   "color": {"condition": {"test": "datum.c >= datum.o", "value": "#2f8c5e"}, "value": "#b23a30"}
  }},
 {"mark": {"type": "bar", "width": 1.3},
  "encoding": {
   "x": {"field": "d", "type": "temporal"},
   "y": {"field": "o", "type": "quantitative"},
   "y2": {"field": "c"},
   "color": {"condition": {"test": "datum.c >= datum.o", "value": "#2f8c5e"}, "value": "#b23a30"}
  }},
 {"data": {"name": "ema"}, "mark": {"type": "line", "interpolate": "monotone", "strokeWidth": 1.3},
  "encoding": {
   "x": {"field": "d", "type": "temporal"},
   "y": {"field": "e", "type": "quantitative"},
   "color": {"field": "k", "type": "nominal", "scale": {"domain": ["e50", "e200"], "range": ["#a8285e", "#f5a623"]}, "legend": null}
  }},
 {"data": {"values": [{}]}, "mark": {"type": "rule", "color": "#9a9a9a", "strokeWidth": 0.8, "strokeDash": [1.5, 2]},
  "encoding": {"x": {"datum": {"year":2020,"month":10,"date":14,"hours":5,"minutes":17,"utc":true}, "type": "temporal"}, "x2": {"datum": {"year":2021,"month":9,"date":5,"hours":17,"utc":true}}, "y": {"datum": 61.89, "type": "quantitative"}}},
 {"data": {"values": [{}]}, "mark": {"type": "rect", "color": "#4aa67a"},
  "encoding": {"x": {"datum": {"year":2021,"month":9,"date":5,"hours":17,"utc":true}, "type": "temporal"}, "x2": {"datum": {"year":2021,"month":9,"date":18,"hours":7,"utc":true}}, "y": {"datum": 64.4, "type": "quantitative"}, "y2": {"datum": 56.8}}},
 {"data": {"values": [{}]}, "mark": {"type": "rect", "color": "#3f9e6e"},
  "encoding": {"x": {"datum": {"year":2021,"month":9,"date":19,"hours":10,"utc":true}, "type": "temporal"}, "x2": {"datum": {"year":2021,"month":10,"date":10,"hours":2,"utc":true}}, "y": {"datum": 67.2, "type": "quantitative"}, "y2": {"datum": 50.8}}},
 {"data": {"values": [{}]}, "mark": {"type": "text", "align": "center", "baseline": "middle", "fontSize": 4.5, "color": "#ffffff", "text": "SOLUSD"},
  "encoding": {"x": {"datum": {"year":2021,"month":9,"date":12,"utc":true}, "type": "temporal"}, "y": {"datum": 60.5, "type": "quantitative"}}},
 {"data": {"values": [{}]}, "mark": {"type": "text", "align": "center", "baseline": "middle", "fontSize": 5, "color": "#ffffff", "text": "61.89113743"},
  "encoding": {"x": {"datum": {"year":2021,"month":9,"date":29,"hours":19,"utc":true}, "type": "temporal"}, "y": {"datum": 61.8, "type": "quantitative"}}},
 {"data": {"values": [{}]}, "mark": {"type": "text", "align": "center", "baseline": "middle", "fontSize": 5, "color": "#ffffff", "text": "11:34:34"},
  "encoding": {"x": {"datum": {"year":2021,"month":9,"date":29,"hours":19,"utc":true}, "type": "temporal"}, "y": {"datum": 54.4, "type": "quantitative"}}},
 {"data": {"values": [{}]}, "mark": {"type": "text", "align": "center", "baseline": "middle", "fontSize": 5, "color": "#777777", "text": "USD"},
  "encoding": {"x": {"datum": {"year":2021,"month":9,"date":30,"hours":17,"utc":true}, "type": "temporal"}, "y": {"datum": 94.7, "type": "quantitative"}}},
 {"data": {"values": [{}]}, "mark": {"type": "text", "align": "left", "baseline": "middle", "fontSize": 5, "color": "#555555", "dx": 3.7, "text": "SOL / US Dollar (calculated by TradingView), 1D, BINANCE"},
  "encoding": {"x": {"datum": {"year":2020,"month":10,"date":14,"hours":5,"minutes":17,"utc":true}, "type": "temporal"}, "y": {"datum": 96.75, "type": "quantitative"}}},
 {"data": {"values": [{}]}, "mark": {"type": "text", "align": "left", "baseline": "middle", "fontSize": 5, "color": "#3a8c5c", "dx": 143.7, "text": "O53.52906152  H65.46745489  L51.90972383  C61.89113743  +8.32083512 (+15.53%)"},
  "encoding": {"x": {"datum": {"year":2020,"month":10,"date":14,"hours":5,"minutes":17,"utc":true}, "type": "temporal"}, "y": {"datum": 96.75, "type": "quantitative"}}},
 {"data": {"values": [{}]}, "mark": {"type": "text", "align": "left", "baseline": "middle", "fontSize": 5, "color": "#555555", "dx": 3.7, "text": "Vol"},
  "encoding": {"x": {"datum": {"year":2020,"month":10,"date":14,"hours":5,"minutes":17,"utc":true}, "type": "temporal"}, "y": {"datum": 81.6, "type": "quantitative"}}},
 {"data": {"values": [{}]}, "mark": {"type": "text", "align": "left", "baseline": "middle", "fontSize": 5, "color": "#26a69a", "dx": 12, "text": "1.075M"},
  "encoding": {"x": {"datum": {"year":2020,"month":10,"date":14,"hours":5,"minutes":17,"utc":true}, "type": "temporal"}, "y": {"datum": 81.6, "type": "quantitative"}}},
 {"data": {"values": [{}]}, "mark": {"type": "text", "align": "left", "baseline": "middle", "fontSize": 5, "color": "#555555", "dx": 3.7, "text": "EMA (200, close, 0)"},
  "encoding": {"x": {"datum": {"year":2020,"month":10,"date":14,"hours":5,"minutes":17,"utc":true}, "type": "temporal"}, "y": {"datum": 68.8, "type": "quantitative"}}},
 {"data": {"values": [{}]}, "mark": {"type": "text", "align": "left", "baseline": "middle", "fontSize": 5, "color": "#f0a020", "dx": 55.3, "text": "28.17179100"},
  "encoding": {"x": {"datum": {"year":2020,"month":10,"date":14,"hours":5,"minutes":17,"utc":true}, "type": "temporal"}, "y": {"datum": 68.8, "type": "quantitative"}}},
 {"data": {"values": [{}]}, "mark": {"type": "text", "align": "left", "baseline": "middle", "fontSize": 5, "color": "#555555", "dx": 3.7, "text": "EMA (50, close, 0)"},
  "encoding": {"x": {"datum": {"year":2020,"month":10,"date":14,"hours":5,"minutes":17,"utc":true}, "type": "temporal"}, "y": {"datum": 57.9, "type": "quantitative"}}},
 {"data": {"values": [{}]}, "mark": {"type": "text", "align": "left", "baseline": "middle", "fontSize": 5, "color": "#a8285e", "dx": 52.7, "text": "36.53706972"},
  "encoding": {"x": {"datum": {"year":2020,"month":10,"date":14,"hours":5,"minutes":17,"utc":true}, "type": "temporal"}, "y": {"datum": 57.9, "type": "quantitative"}}}
]}
]
}
],
"config": {
 "view": {"stroke": null, "fill": "#f6e0cc"},
 "font": "Liberation Sans",
 "axis": {"labelFont": "Liberation Sans", "labelFontSize": 5.5, "labelColor": "#666666", "domainColor": "#8f8f8f", "tickColor": "#8f8f8f", "tickSize": 3, "labelPadding": 2, "gridColor": "#f2e6da", "gridWidth": 1, "labelOverlap": false}
}
}
